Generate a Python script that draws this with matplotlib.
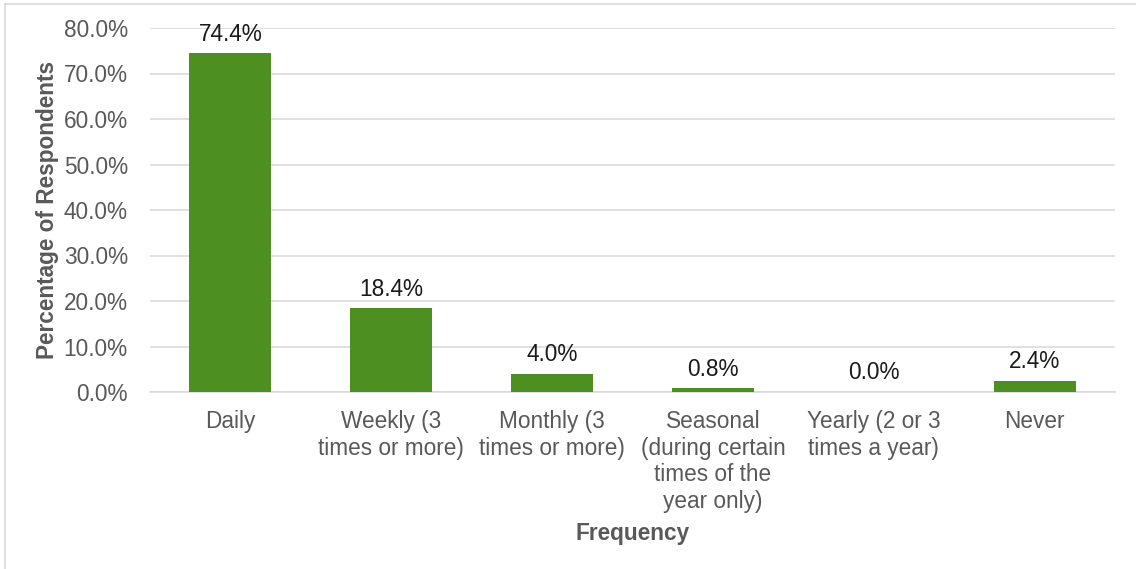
import matplotlib
matplotlib.use("Agg")
import matplotlib.pyplot as plt
from matplotlib.ticker import FuncFormatter

plt.rcParams['font.family'] = ['Liberation Sans', 'DejaVu Sans']

categories = [
    "Daily",
    "Weekly (3\ntimes or more)",
    "Monthly (3\ntimes or more)",
    "Seasonal\n(during certain\ntimes of the\nyear only)",
    "Yearly (2 or 3\ntimes a year)",
    "Never",
]
percentages = [74.4, 18.4, 4.0, 0.8, 0.0, 2.4]
y_ticks = [0, 10, 20, 30, 40, 50, 60, 70, 80]

W, H = 1136, 569
FS = 16.3
fig = plt.figure(figsize=(W / 100, H / 100), dpi=100)
fig.patch.set_facecolor("white")

# thin frame along the top and left edges of the figure
fig.add_artist(plt.Line2D([5 / W, 5 / W], [0, 1 - 4 / H], transform=fig.transFigure,
                          color="#d9d9d9", lw=1.2))
fig.add_artist(plt.Line2D([5 / W, 1], [1 - 4 / H, 1 - 4 / H], transform=fig.transFigure,
                          color="#d9d9d9", lw=1.2))

left, right, bottom, top = 150, 1115, 392, 28
ax = fig.add_axes([left / W, (H - bottom) / H, (right - left) / W, (bottom - top) / H])

x = range(len(categories))
bars = ax.bar(x, percentages, width=0.51, color="#4e8f22", zorder=3)

for xi, v in zip(x, percentages):
    ax.annotate(f"{v:.1f}%", xy=(xi, v), xytext=(0, 5.5), textcoords="offset points",
                ha="center", va="bottom", fontsize=FS, color="#1a1a1a")

ax.set_xlim(-0.5, len(categories) - 0.5)
ax.set_ylim(0, 80)
ax.set_yticks(y_ticks)
ax.yaxis.set_major_formatter(FuncFormatter(lambda v, p: f"{v:.1f}%"))
ax.grid(axis="y", color="#d9d9d9", lw=1.1, zorder=0)
ax.set_axisbelow(True)

for s in ["top", "right", "left"]:
    ax.spines[s].set_visible(False)
ax.spines["bottom"].set_color("#d9d9d9")
ax.spines["bottom"].set_linewidth(1.1)

ax.set_xticks(list(x))
ax.set_xticklabels(categories, linespacing=1.2)
ax.tick_params(axis="both", length=0, labelsize=FS, labelcolor="#595959")
ax.tick_params(axis="x", pad=13)
ax.tick_params(axis="y", pad=16)

ax.set_ylabel("Percentage of Respondents", fontsize=FS, fontweight="bold", color="#595959")
ax.yaxis.set_label_coords(-0.106, 0.5)
ax.yaxis.label.set_va("center")
ax.set_xlabel("Frequency", fontsize=FS, fontweight="bold", color="#595959")
ax.xaxis.set_label_coords(0.5, -0.39)
ax.xaxis.label.set_va("center")

fig.savefig("out.png", dpi=100, facecolor="white")
